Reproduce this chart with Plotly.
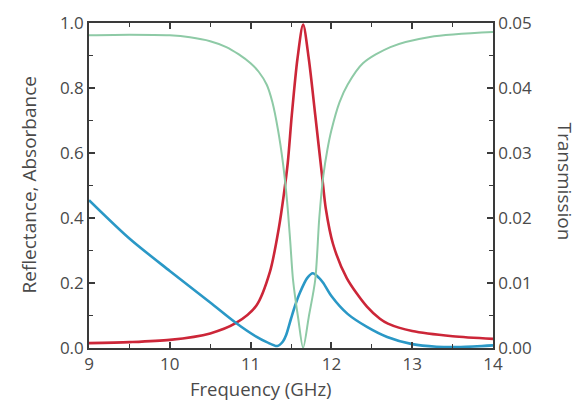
import plotly.graph_objects as go

# Absorbance (left axis)
abs_freq = [9.0, 9.5, 10.0, 10.5, 10.82, 11.07, 11.24, 11.35, 11.41, 11.46, 11.51, 11.58, 11.65,
            11.72, 11.80, 11.89, 11.93, 12.02, 12.19, 12.44, 12.6, 12.7, 13.0, 13.5, 14.0]
abs_vals = [0.015, 0.018, 0.025, 0.045, 0.077, 0.13, 0.235, 0.37, 0.47, 0.57, 0.717, 0.89, 0.995,
            0.89, 0.717, 0.517, 0.43, 0.32, 0.215, 0.127, 0.09, 0.075, 0.052, 0.036, 0.028]

# Reflectance (left axis)
ref_freq = [9.0, 9.5, 10.0, 10.5, 10.82, 11.07, 11.2, 11.33, 11.4, 11.44, 11.5, 11.55, 11.61,
            11.7, 11.77, 11.85, 11.9, 12.0, 12.2, 12.44, 12.69, 13.0, 13.3, 13.6, 14.0]
ref_vals = [0.455, 0.337, 0.237, 0.14, 0.077, 0.035, 0.018, 0.006, 0.02, 0.04, 0.09, 0.13, 0.17,
            0.215, 0.23, 0.215, 0.20, 0.16, 0.105, 0.065, 0.034, 0.012, 0.004, 0.003, 0.008]

# Transmission (right axis)
tra_freq = [9.0, 9.5, 10.0, 10.25, 10.5, 10.7, 10.85, 11.0, 11.1, 11.2, 11.27, 11.34, 11.4, 11.45,
            11.49, 11.525, 11.59, 11.65, 11.72, 11.8, 11.85, 11.9, 11.95, 12.0, 12.1, 12.2, 12.39,
            12.73, 13.22, 14.0]
tra_vals = [0.0481, 0.0482, 0.0481, 0.0478, 0.0472, 0.0463, 0.0452, 0.0438, 0.0425, 0.0405,
            0.0378, 0.0335, 0.0285, 0.0228, 0.0165, 0.0105, 0.0045, 0.0, 0.0048, 0.0105, 0.020,
            0.0265, 0.0305, 0.0335, 0.0378, 0.0405, 0.0438, 0.0463, 0.04785, 0.0486]

x_ticks = [9, 10, 11, 12, 13, 14]
left_ticks = [0.0, 0.2, 0.4, 0.6, 0.8, 1.0]
right_ticks = [0.00, 0.01, 0.02, 0.03, 0.04, 0.05]

GREEN = "#8ecaa6"
RED = "#cc2638"
BLUE = "#2a98c6"
AX = "#3a3a3a"
TXT = "#4a4a4a"
FONT = "Open Sans"

fig = go.Figure()
fig.add_trace(go.Scatter(x=tra_freq, y=tra_vals, mode="lines", yaxis="y2",
                         line=dict(color=GREEN, width=2, shape="spline", smoothing=0.8),
                         name="Transmission"))
fig.add_trace(go.Scatter(x=abs_freq, y=abs_vals, mode="lines",
                         line=dict(color=RED, width=2.6, shape="spline", smoothing=0.8),
                         name="Absorbance"))
fig.add_trace(go.Scatter(x=ref_freq, y=ref_vals, mode="lines",
                         line=dict(color=BLUE, width=2.6, shape="spline", smoothing=0.8),
                         name="Reflectance"))

axis_common = dict(showline=True, linecolor=AX, linewidth=1.6, ticks="inside", ticklen=6,
                   tickwidth=1.5, tickcolor=AX, showgrid=False, zeroline=False,
                   automargin=False,
                   tickfont=dict(family=FONT, size=17, color=TXT))
minor_common = dict(ticks="inside", ticklen=4, tickcolor=AX, tickwidth=1.3)

# the page body adds an 8px offset; margins compensate for it
fig.update_layout(
    width=576, height=398,
    margin=dict(l=81, r=91, t=15, b=58),
    paper_bgcolor="white", plot_bgcolor="white",
    showlegend=False,
    font=dict(family=FONT, color=TXT),
    xaxis=dict(range=[9, 14], tickvals=x_ticks, ticktext=[str(v) for v in x_ticks],
               mirror="ticks", minor=dict(dtick=0.5, **minor_common),
               **axis_common),
    yaxis=dict(range=[0, 1.0], tickvals=left_ticks, ticktext=[f"{v:.1f}" for v in left_ticks],
               minor=dict(dtick=0.1, **minor_common),
               **axis_common),
    yaxis2=dict(range=[0, 0.05], overlaying="y", side="right",
                tickvals=right_ticks, ticktext=[f"{v:.2f}" for v in right_ticks],
                minor=dict(dtick=0.005, **minor_common),
                **axis_common),
)

fig.add_annotation(text="Frequency (GHz)", xref="paper", yref="paper", x=0.5, y=0,
                   xanchor="center", yanchor="middle",
                   xshift=-30, yshift=-40, showarrow=False,
                   font=dict(family=FONT, size=18.5, color=TXT))
fig.add_annotation(text="Reflectance, Absorbance", xref="paper", yref="paper", x=0, y=0.5,
                   xanchor="center", yanchor="middle",
                   xshift=-61, textangle=-90, showarrow=False,
                   font=dict(family=FONT, size=19, color=TXT))
fig.add_annotation(text="Transmission", xref="paper", yref="paper", x=1.0, y=0.5,
                   xanchor="center", yanchor="middle",
                   xshift=72, yshift=4, textangle=90, showarrow=False,
                   font=dict(family=FONT, size=19, color=TXT))

fig.write_html("out.html")
